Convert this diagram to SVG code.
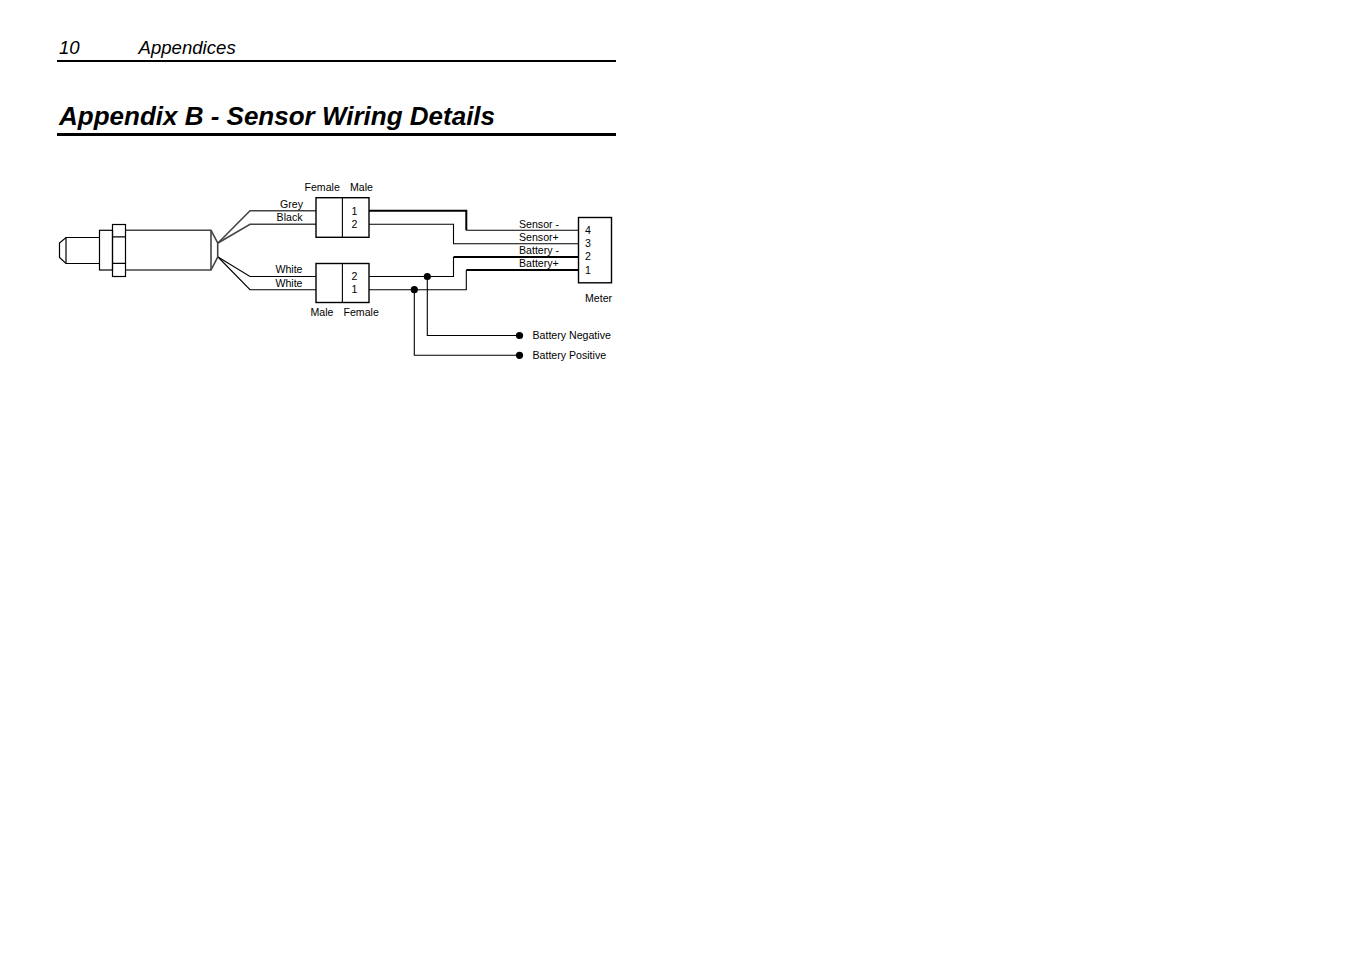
<svg xmlns="http://www.w3.org/2000/svg" width="1351" height="954" viewBox="0 0 1351 954">
<style>
text{font-family:"Liberation Sans",Arial,sans-serif;fill:#000;font-size:10.6px}
.hd{font-size:18.6px;font-style:italic}
.ti{font-size:26px;font-style:italic;font-weight:bold}
.s{fill:none;stroke:#000;stroke-width:1.2}
.b{fill:#fff;stroke:#000;stroke-width:1.4}
.w{fill:none;stroke:#000;stroke-width:1.1}
.t{fill:none;stroke:#000;stroke-width:2}
.g{fill:none;stroke:#444;stroke-width:1.6}
.d{fill:#000}
</style>
<rect width="1351" height="954" fill="#fff"/>
<g id="header">
<text class="hd" x="59" y="54">10</text>
<text class="hd" x="138.500" y="54">Appendices</text>
<rect x="57" y="60" width="559" height="2"/>
<text class="ti" x="59" y="125">Appendix B - Sensor Wiring Details</text>
<rect x="57" y="133" width="559" height="3"/>
</g>
<g id="connectors">
<path class="g" d="M218 243L250 210.700H316"/>
<path class="g" d="M218 243L250 224.300H316" stroke="#555"/>
<path class="w" d="M218 257L250 276.500H316"/>
<path class="w" d="M218 257L250 289.700H316"/>
<path class="t" d="M369 210.700H466.300V230.300"/>
<path class="w" d="M466.300 230.300H578"/>
<path class="w" d="M369 224.300H453.500V243.700H578"/>
<path class="w" d="M369 276.500H453.500V257"/>
<path class="t" d="M453.500 257H578"/>
<path class="w" d="M369 289.700H466.300V270"/>
<path class="t" d="M466.300 270H578"/>
<path class="w" d="M427.300 276.500V335.500H519.500"/>
<path class="w" d="M414.300 289.700V355.300H519.500"/>
<circle class="d" cx="427.300" cy="276.500" r="3.600"/>
<circle class="d" cx="414.300" cy="289.700" r="3.600"/>
<circle class="d" cx="519.500" cy="335.500" r="3.600"/>
<circle class="d" cx="519.500" cy="355.300" r="3.600"/>
</g>
<g id="sensor">
<path class="s" d="M99.500 237.500H66L59.500 243V257.500L66 263.500H99.500"/>
<line class="s" x1="66" y1="237.500" x2="66" y2="263.500"/>
<rect class="s" x="99.500" y="230.300" width="13" height="39.700"/>
<path class="g" d="M125.500 230.300H211L217.700 243V257L211 270H125.500" stroke="#333"/>
<line class="g" x1="211" y1="230.300" x2="211" y2="270"/>
<rect class="s" x="112.500" y="224.500" width="13" height="52"/>
<path class="s" d="M112.500 236.800H125.500M112.500 263.300H125.500"/>
</g>
<g id="connector-top">
<rect class="b" x="316" y="197.700" width="53" height="39.600"/>
<line class="w" x1="342.400" y1="197.700" x2="342.400" y2="237.300"/>
<text x="351.500" y="215">1</text>
<text x="351.500" y="228">2</text>
<text x="304.500" y="191">Female</text>
<text x="350" y="191">Male</text>
<text x="303" y="208" text-anchor="end">Grey</text>
<text x="302.500" y="221" text-anchor="end">Black</text>
</g>
<g id="connector-bottom">
<rect class="b" x="316" y="263.500" width="53" height="39"/>
<line class="w" x1="342.400" y1="263.500" x2="342.400" y2="302.500"/>
<text x="351.500" y="280">2</text>
<text x="351.500" y="293">1</text>
<text x="310.500" y="316">Male</text>
<text x="343.500" y="316">Female</text>
<text x="302.500" y="273" text-anchor="end">White</text>
<text x="302.500" y="287" text-anchor="end">White</text>
</g>
<g id="meter">
<rect class="b" x="578.500" y="217.500" width="33" height="65.300"/>
<text x="585" y="234">4</text>
<text x="585" y="247">3</text>
<text x="585" y="260">2</text>
<text x="585" y="274">1</text>
<text x="585" y="302">Meter</text>
<text x="519" y="228">Sensor -</text>
<text x="519" y="241">Sensor+</text>
<text x="519" y="254">Battery -</text>
<text x="519" y="267">Battery+</text>
</g>
<g id="battery-labels">
<text x="532.500" y="339">Battery Negative</text>
<text x="532.500" y="359">Battery Positive</text>
</g>
</svg>
